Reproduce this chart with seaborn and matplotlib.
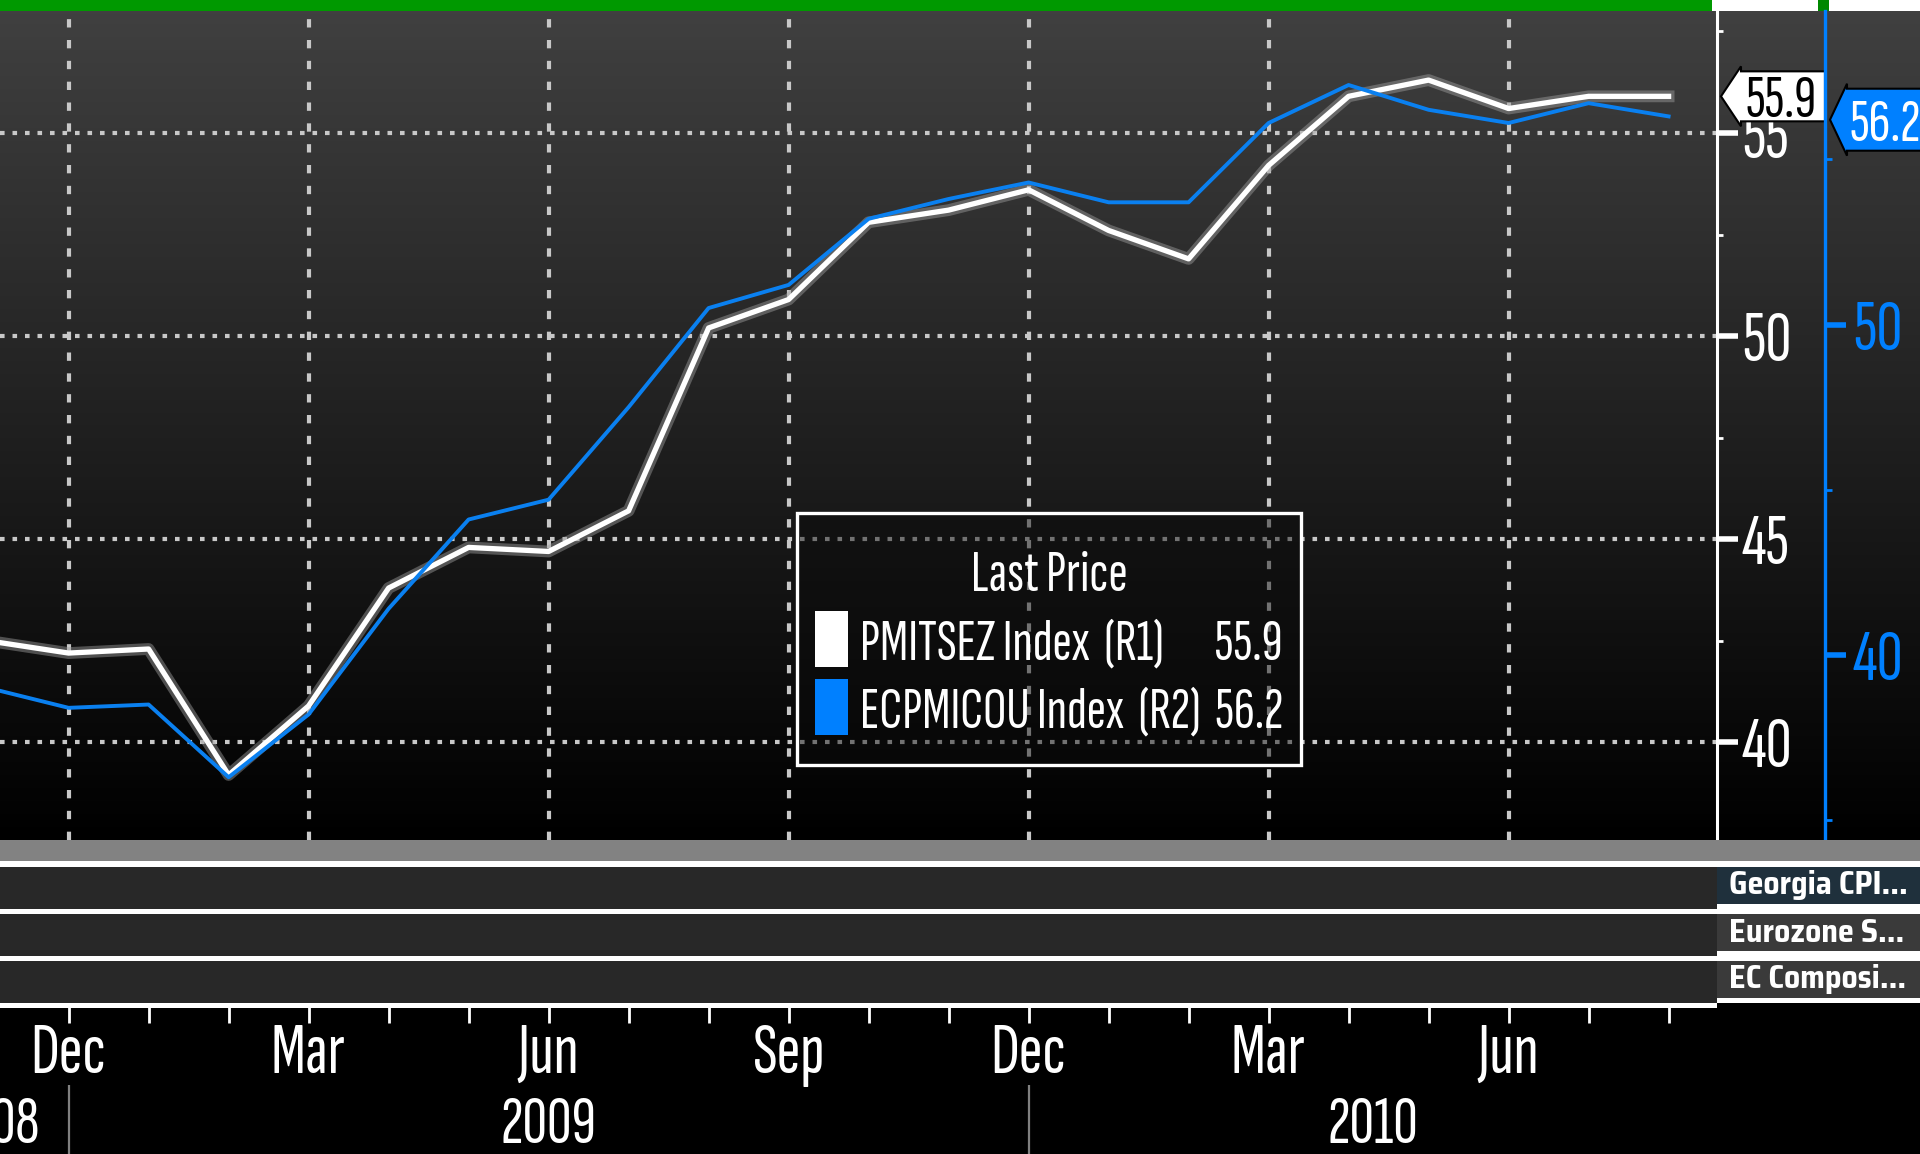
import numpy as np
import pandas as pd
import seaborn as sns
import matplotlib
matplotlib.use("Agg")
import matplotlib.pyplot as plt
import matplotlib.patches as mpatches
from matplotlib.colors import LinearSegmentedColormap
from matplotlib.offsetbox import DrawingArea
from matplotlib.transforms import blended_transform_factory, ScaledTranslation

plt.rcParams["font.family"] = ["Sofia Sans Extra Condensed", "DejaVu Sans"]

# ── Data: monthly readings, Nov 2008 .. Aug 2010 ──────────────
months = ["Nov", "Dec", "Jan", "Feb", "Mar", "Apr", "May", "Jun", "Jul", "Aug", "Sep",
          "Oct", "Nov", "Dec", "Jan", "Feb", "Mar", "Apr", "May", "Jun", "Jul", "Aug"]
years = [2008, 2008] + [2009] * 12 + [2010] * 8
pmitsez = [42.5, 42.2, 42.3, 39.2, 40.9, 43.8, 44.8, 44.7, 45.7, 50.2, 50.9,
           52.8, 53.1, 53.6, 52.6, 51.9, 54.2, 55.9, 56.3, 55.6, 55.9, 55.9]
ecpmicou = [39.0, 38.4, 38.5, 36.3, 38.2, 41.4, 44.1, 44.7, 47.5, 50.5, 51.2,
            53.2, 53.8, 54.3, 53.7, 53.7, 56.1, 57.25, 56.5, 56.1, 56.7, 56.3]
last_price = [55.9, 56.2]
series_names = ["PMITSEZ Index", "ECPMICOU Index"]
axis_tags = ["(R1)", "(R2)"]
r1_ticks = [40, 45, 50, 55]
r2_ticks = [40, 50]
panel_labels = ["Georgia CPI...", "Eurozone S...", "EC Composi..."]

df = pd.DataFrame({"month": months, "year": years,
                   "pmitsez": pmitsez, "ecpmicou": ecpmicou})
df["t"] = np.arange(len(df))

# ── Styling / layout ──────────────────────────────────────────
W, H = 1920, 1154
BLUE = "#0a80f0"
BLUE2 = "#0080ff"
XLIM = (0.1425, 21.605)
BIG = 52      # axis / month text
LEG = 42      # legend text


def box(x0, y0, x1, y1):
    """pixel box (top-left origin) -> figure fraction rect"""
    return [x0 / W, 1 - y1 / H, (x1 - x0) / W, (y1 - y0) / H]


def panel(x0, y0, x1, y1, color):
    a = fig.add_axes(box(x0, y0, x1, y1))
    a.set_facecolor(color)
    a.set_xticks([])
    a.set_yticks([])
    for s in a.spines.values():
        s.set_visible(False)
    return a


def price_tag(axis, value, x_axes, fc, tc, tip, x0, x1, half, flare, tx):
    """Bloomberg style last-price flag, drawn in pixel offsets from the
    (axes x, data y) anchor point"""
    anchor = ScaledTranslation(x_axes, value,
                               blended_transform_factory(axis.transAxes, axis.transData))
    tr = fig.dpi_scale_trans + anchor
    pts = np.array([(tip, 0), (x0, flare), (x0, half), (x1, half),
                    (x1, -half), (x0, -half), (x0, -flare)]) / 100
    axis.add_patch(mpatches.Polygon(pts, closed=True, transform=tr, fc=fc,
                                    ec="black", lw=1.5, clip_on=False, zorder=10))
    axis.text(tx / 100, 0, f"{value}", transform=tr, ha="center", va="center_baseline",
              fontsize=44, color=tc, clip_on=False, zorder=11)


fig = plt.figure(figsize=(W / 100, H / 100), dpi=100, facecolor="black")

# top strip
panel(0, 0, W, 11, "white")
panel(0, 0, 1712, 11, "#009900")
panel(1818, 0, 1829, 11, "#008800")

# gradient backdrop
bg = fig.add_axes(box(0, 11, W, 840))
grad = LinearSegmentedColormap.from_list("g", ["#000000", "#404040"])
bg.imshow(np.linspace(1, 0, 256).reshape(-1, 1), aspect="auto", cmap=grad,
          extent=[0, 1, 0, 1])
bg.set_axis_off()

# ── Main pane ─────────────────────────────────────────────────
ax = fig.add_axes(box(0, 11, 1717, 840))
ax.set_facecolor("none")
ax2 = ax.twinx()

sns.lineplot(data=df, x="t", y="pmitsez", ax=ax, color="#a0a0a0", lw=8.5,
             alpha=0.45, legend=False)
sns.lineplot(data=df, x="t", y="pmitsez", ax=ax, color="white", lw=3.8,
             legend=False)
sns.lineplot(data=df, x="t", y="ecpmicou", ax=ax2, color=BLUE, lw=2.8,
             legend=False)

quarter_pos = df.index[df["month"].isin(["Dec", "Mar", "Jun", "Sep"])].tolist()
ax.set_xticks(quarter_pos)
ax.set_xlim(*XLIM)
ax.set_ylim(37.6, 58.0)
ax2.set_ylim(34.4, 59.49)
for a in (ax, ax2):
    a.set_xlabel("")
    a.set_ylabel("")

ax.tick_params(axis="x", length=0, labelbottom=False)
ax.xaxis.grid(True, color="#c8c8c8", lw=3.0, ls=(0, (2.0, 3.0)))
ax.yaxis.grid(True, color="#c8c8c8", lw=3.0, ls=(0, (1.1, 1.9)))

# R1 axis (white)
ax.yaxis.tick_right()
ax.set_yticks(r1_ticks)
ax.set_yticks([v + 2.5 for v in r1_ticks], minor=True)
ax.tick_params(axis="y", which="major", colors="white", length=15, width=4,
               pad=3, labelsize=BIG)
ax.tick_params(axis="y", which="minor", colors="white", length=4, width=2)
for side in ("left", "top", "bottom"):
    ax.spines[side].set_visible(False)
    ax2.spines[side].set_visible(False)
ax.spines["right"].set_color("white")
ax.spines["right"].set_linewidth(2.2)

# R2 axis (blue)
ax2.spines["right"].set_position(("axes", 1825 / 1717))
ax2.spines["right"].set_color(BLUE2)
ax2.spines["right"].set_linewidth(2.4)
ax2.set_yticks(r2_ticks)
ax2.set_yticks([v + 5 for v in r2_ticks] + [35], minor=True)
ax2.tick_params(axis="y", which="major", colors=BLUE2, length=15, width=4,
                pad=5, labelsize=BIG)
ax2.tick_params(axis="y", which="minor", colors=BLUE2, length=5, width=2)
ax2.set_ylim(34.4, 59.49)

# last-price flags
price_tag(ax, last_price[0], 1.0, "white", "black",
          tip=4, x0=24, x1=108, half=25, flare=30, tx=64)
price_tag(ax2, last_price[1], 1825 / 1717, BLUE2, "white",
          tip=5, x0=22, x1=140, half=31, flare=36, tx=60)

# legend
handles = [mpatches.Patch(facecolor="white", edgecolor="none"),
           mpatches.Patch(facecolor=BLUE2, edgecolor="none")]
labels = [f"{series_names[0]}  {axis_tags[0]}       {last_price[0]}",
          f"{series_names[1]}  {axis_tags[1]}  {last_price[1]}"]
leg = ax2.legend(handles, labels, title="Last Price", loc="upper left",
                 bbox_to_anchor=(797 / 1717, (839 - 512) / 829),
                 borderaxespad=0, fontsize=LEG, title_fontsize=LEG,
                 handlelength=0.58, handleheight=1.1, handletextpad=0.2,
                 labelspacing=0.16, borderpad=0.3, fancybox=False)
# extra head/foot room inside the frame, like the terminal box
leg._legend_box._children.insert(0, DrawingArea(0, 8))
leg._legend_box._children.append(DrawingArea(0, 0))
for t in leg.get_texts():
    t.set_color("white")
leg.get_title().set_color("white")
frame = leg.get_frame()
frame.set_alpha(None)
frame.set_facecolor((0.04, 0.04, 0.04, 0.45))
frame.set_edgecolor("white")
frame.set_linewidth(2.4)

# ── Lower study panes ─────────────────────────────────────────
panel(0, 840, W, 861, "#828282")
panel(0, 861, 1717, 1008, "white")
panel(1717, 861, W, 1003, "white")
pane_rows = [(867, 909), (914, 956), (961, 1003)]
label_colors = ["#1f303c", "#3a3a3a", "#3a3a3a"]
for (y0, y1), lab, lc in zip(pane_rows, panel_labels, label_colors):
    panel(0, y0, 1717, y1, "#282828")
    lb = panel(1717, y0, W, y1 - 5, lc)
    lb.text(0.06, 0.5, lab, transform=lb.transAxes, ha="left", va="center",
            fontsize=23, fontweight="bold", color="white",
            family=["Saira SemiCondensed", "DejaVu Sans"])

# month ticks and labels
tick_ax = fig.add_axes(box(0, 1003, 1717, 1023))
tick_ax.set_facecolor("none")
for s in tick_ax.spines.values():
    s.set_visible(False)
tick_ax.set_yticks([])
tick_ax.set_xticks(quarter_pos)
tick_ax.set_xticklabels(df.loc[quarter_pos, "month"])
tick_ax.set_xticks(df["t"].tolist(), minor=True)
tick_ax.set_xlim(*XLIM)
tick_ax.tick_params(axis="x", which="both", direction="in", length=14.4,
                    width=2, color="white", labelcolor="white", labelsize=BIG,
                    pad=0)

# year row
year_ax = fig.add_axes(box(0, 1085, 1717, 1154))
year_ax.set_facecolor("none")
for s in year_ax.spines.values():
    s.set_visible(False)
year_ax.set_xticks([])
year_ax.set_yticks([])
year_ax.set_xlim(*XLIM)
year_ax.set_ylim(0, 1)
dec_pos = df.index[df["month"] == "Dec"].tolist()
for p in dec_pos:
    year_ax.axvline(p, color="#808080", lw=1.6)
year_names = sorted(df["year"].unique())
year_x = [0.64, (dec_pos[0] + dec_pos[1]) / 2, (dec_pos[1] + XLIM[1]) / 2]
year_ha = ["right", "center", "center"]
for yr, xp, ha in zip(year_names, year_x, year_ha):
    year_ax.text(xp, 0.4, str(yr), ha=ha, va="center", fontsize=49,
                 color="white")

fig.savefig("out.png", dpi=100, facecolor="black")
